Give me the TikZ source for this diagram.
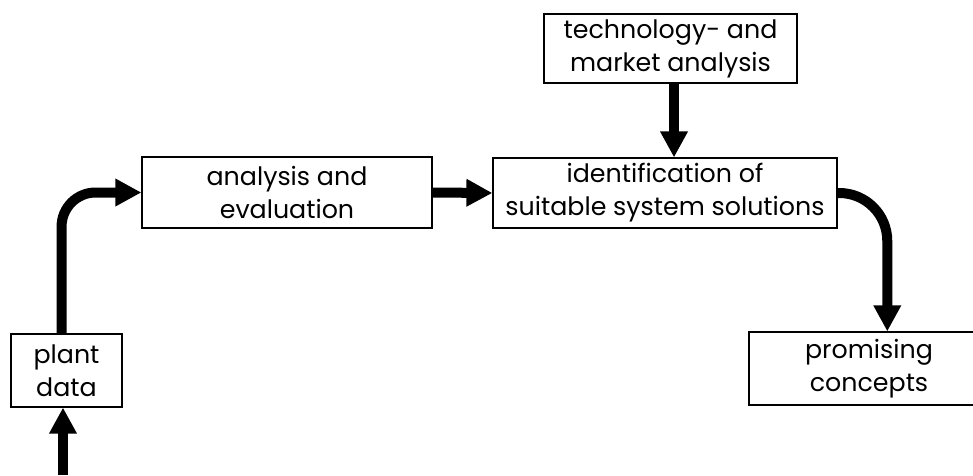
\documentclass[tikz,border=0pt]{standalone}
\usepackage{fontspec}
\setmainfont{Poppins}
\usetikzlibrary{calc, arrows.meta}

\tikzset{
  stage/.style={draw, line width=0.8pt, align=center, inner sep=0pt,
    font=\fontsize{18}{23.5}\selectfont},
  flow/.style={line width=0.25cm, -{Triangle[width=0.65cm, length=0.65cm]}}
}

\begin{document}
\begin{tikzpicture}[x=0.025cm, y=-0.025cm]
    \clip (0,0) rectangle (973,475);
    \node[stage, minimum width=2.775cm, minimum height=1.825cm] (plant) at (66.5,370.5) {plant\\data};
    \node[stage, minimum width=7.25cm, minimum height=1.775cm] (analysis) at (287,192.5) {analysis and\\evaluation};
    \node[stage, minimum width=8.6cm, minimum height=1.75cm] (ident) at (665,193) {identification of\\suitable system solutions};
    \node[stage, minimum width=6.325cm, minimum height=1.725cm] (tech) at (670.5,48.5) {technology- and\\market analysis};
    \node[stage, minimum width=6cm, minimum height=1.825cm] (promising) at (869,368.5) {promising\\concepts};
    \coordinate (source) at (63,475);
    \draw[flow] (source) -- (source |- plant.south);
    \draw[flow, rounded corners=0.85cm] ([xshift=-3.5]plant.north) |- (analysis.west);
    \draw[flow] (analysis.east) -- (ident.west);
    \draw[flow] ([xshift=2.5]tech.south) -- ([xshift=2.5]tech.south |- ident.north);
    \draw[flow, rounded corners=1.2cm] (ident.east) -| ([xshift=13]promising.north);
\end{tikzpicture}
\end{document}
